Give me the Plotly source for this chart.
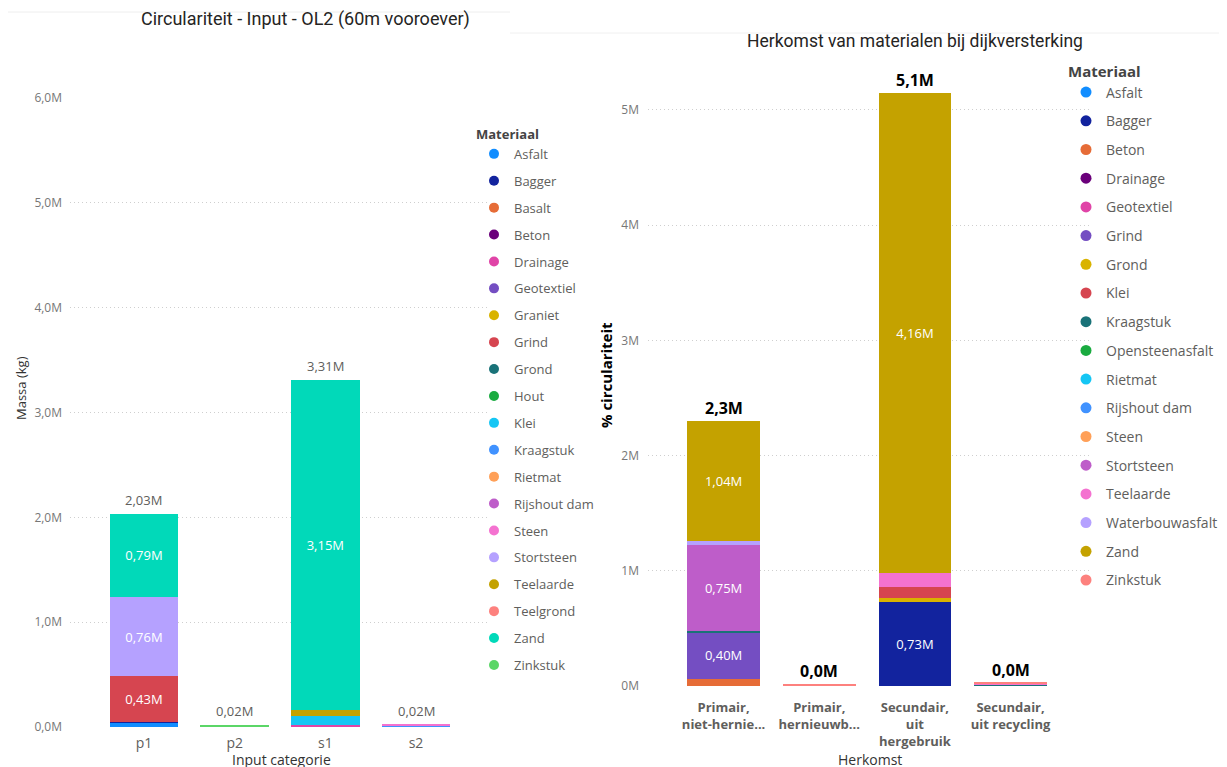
import plotly.graph_objects as go

W, H = 1227, 767
OFF = 8  # page body margin in the browser

# ---------------- Left chart data ----------------
left_title = "Circulariteit - Input - OL2 (60m vooroever)"
left_categories = ["p1", "p2", "s1", "s2"]
left_materials = ["Asfalt", "Bagger", "Basalt", "Beton", "Drainage", "Geotextiel", "Graniet",
                  "Grind", "Grond", "Hout", "Klei", "Kraagstuk", "Rietmat", "Rijshout dam",
                  "Steen", "Stortsteen", "Teelaarde", "Teelgrond", "Zand", "Zinkstuk"]
left_colors = ["#118DFF", "#12239E", "#E66C37", "#6B007B", "#E044A7", "#744EC2", "#D9B300",
               "#D64550", "#197278", "#1AAB40", "#15C6F4", "#4092FF", "#FFA058", "#BE5DC9",
               "#F472D0", "#B5A1FF", "#C4A200", "#FD817E", "#01D9B9", "#5BD667"]
# values in kg per category (p1, p2, s1, s2)
left_asfalt = [40000, 0, 0, 0]
left_bagger = [12000, 0, 0, 0]
left_drainage = [0, 0, 15000, 0]
left_grind = [430000, 0, 0, 0]
left_klei = [0, 0, 90000, 0]
left_kraagstuk = [0, 0, 0, 16000]
left_steen = [0, 0, 0, 5000]
left_stortsteen = [760000, 0, 0, 0]
left_teelaarde = [0, 0, 55000, 0]
left_zand = [790000, 0, 3150000, 0]
left_zinkstuk = [0, 20000, 0, 0]
left_values = {"Asfalt": left_asfalt, "Bagger": left_bagger, "Drainage": left_drainage,
               "Grind": left_grind, "Klei": left_klei, "Kraagstuk": left_kraagstuk,
               "Steen": left_steen, "Stortsteen": left_stortsteen, "Teelaarde": left_teelaarde,
               "Zand": left_zand, "Zinkstuk": left_zinkstuk}
left_yticks = [0, 1e6, 2e6, 3e6, 4e6, 5e6, 6e6]
left_yticklabels = ["0,0M", "1,0M", "2,0M", "3,0M", "4,0M", "5,0M", "6,0M"]

# ---------------- Right chart data ----------------
right_title = "Herkomst van materialen bij dijkversterking"
right_categories = ["Primair, niet-hernieuwbaar", "Primair, hernieuwbaar",
                    "Secundair, uit hergebruik", "Secundair, uit recycling"]
right_ticklabels = ["Primair,<br>niet-hernie...", "Primair,<br>hernieuwb...",
                    "Secundair,<br>uit<br>hergebruik", "Secundair,<br>uit recycling"]
right_materials = ["Asfalt", "Bagger", "Beton", "Drainage", "Geotextiel", "Grind", "Grond",
                   "Klei", "Kraagstuk", "Opensteenasfalt", "Rietmat", "Rijshout dam", "Steen",
                   "Stortsteen", "Teelaarde", "Waterbouwasfalt", "Zand", "Zinkstuk"]
right_colors = ["#118DFF", "#12239E", "#E66C37", "#6B007B", "#E044A7", "#744EC2", "#D9B300",
                "#D64550", "#197278", "#1AAB40", "#15C6F4", "#4092FF", "#FFA058", "#BE5DC9",
                "#F472D0", "#B5A1FF", "#C4A200", "#FD817E"]
right_bagger = [0, 0, 730000, 0]
right_beton = [65000, 0, 0, 0]
right_grind = [400000, 0, 0, 0]
right_grond = [0, 0, 30000, 0]
right_klei = [0, 0, 100000, 0]
right_kraagstuk = [12000, 0, 0, 8000]
right_stortsteen = [750000, 0, 0, 0]
right_teelaarde = [0, 0, 125000, 6000]
right_waterbouwasfalt = [35000, 0, 0, 6000]
right_zand = [1040000, 0, 4160000, 0]
right_zinkstuk = [0, 18000, 0, 8000]
right_values = {"Bagger": right_bagger, "Beton": right_beton, "Grind": right_grind,
                "Grond": right_grond, "Klei": right_klei, "Kraagstuk": right_kraagstuk,
                "Stortsteen": right_stortsteen, "Teelaarde": right_teelaarde,
                "Waterbouwasfalt": right_waterbouwasfalt, "Zand": right_zand,
                "Zinkstuk": right_zinkstuk}
right_yticks = [0, 1e6, 2e6, 3e6, 4e6, 5e6]
right_yticklabels = ["0M", "1M", "2M", "3M", "4M", "5M"]

FONT = "Segoe UI, Open Sans, sans-serif"
TFONT = "Roboto, Segoe UI, sans-serif"


def px_x(p):
    return (p - OFF) / W


def px_y(p):
    return 1 - (p - OFF) / H


def fmt2(v):
    return f"{v / 1e6:.2f}M".replace(".", ",")


def fmt1(v):
    return f"{v / 1e6:.1f}M".replace(".", ",")


fig = go.Figure()

# ---------- left bars ----------
for mat, col in zip(left_materials, left_colors):
    if mat in left_values:
        vals = left_values[mat]
        fig.add_trace(go.Bar(
            x=left_categories, y=vals, name=mat, marker=dict(color=col, line=dict(width=0)),
            width=0.76, text=[fmt2(v) if v >= 300000 else "" for v in vals],
            textposition="inside", insidetextanchor="middle", textangle=0,
            textfont=dict(color="white", size=13, family=FONT),
            showlegend=False, xaxis="x", yaxis="y", hoverinfo="skip"))
    fig.add_trace(go.Scatter(
        x=[None], y=[None], mode="markers", name=mat,
        marker=dict(color=col, size=10, symbol="circle"),
        legend="legend", legendgroup="L" + mat, xaxis="x", yaxis="y"))

left_totals = [sum(v[i] for v in left_values.values()) for i in range(len(left_categories))]

# ---------- right bars ----------
for mat, col in zip(right_materials, right_colors):
    if mat in right_values:
        vals = right_values[mat]
        fig.add_trace(go.Bar(
            x=right_categories, y=vals, name=mat, marker=dict(color=col, line=dict(width=0)),
            width=0.76, text=[fmt2(v) if v >= 300000 else "" for v in vals],
            textposition="inside", insidetextanchor="middle", textangle=0,
            textfont=dict(color="white", size=13, family=FONT),
            showlegend=False, xaxis="x2", yaxis="y2", hoverinfo="skip"))
    fig.add_trace(go.Scatter(
        x=[None], y=[None], mode="markers", name=mat,
        marker=dict(color=col, size=11, symbol="circle"),
        legend="legend2", legendgroup="R" + mat, xaxis="x2", yaxis="y2"))

right_totals = [sum(v[i] for v in right_values.values()) for i in range(len(right_categories))]

total_annotations = []
for cat, tot in zip(left_categories, left_totals):
    total_annotations.append(dict(
        x=cat, y=tot, xref="x", yref="y", text=fmt2(tot), showarrow=False,
        xanchor="center", yanchor="bottom", yshift=3,
        font=dict(color="#605E5C", size=13, family=FONT)))
for cat, tot in zip(right_categories, right_totals):
    total_annotations.append(dict(
        x=cat, y=tot, xref="x2", yref="y2", text="<b>" + fmt1(tot) + "</b>", showarrow=False,
        xanchor="center", yanchor="bottom", yshift=0,
        font=dict(color="#000000", size=16, family=FONT)))

grid = dict(showgrid=True, gridcolor="#CFCFCF", griddash="1px,3px", gridwidth=1, zeroline=False)

fig.update_layout(
    width=W, height=H, margin=dict(l=0, r=0, t=0, b=0, autoexpand=False),
    paper_bgcolor="white", plot_bgcolor="white", barmode="stack",
    font=dict(family=FONT, color="#605E5C"),
    xaxis=dict(type="category", domain=[px_x(70), px_x(490)], range=[-0.816, 3.816],
               showgrid=False, showline=False, ticks="", ticklabelstandoff=6,
               tickfont=dict(size=14, color="#605E5C", family=FONT), anchor="y"),
    yaxis=dict(domain=[px_y(727), px_y(98)], range=[0, 6e6], tickvals=left_yticks,
               ticktext=left_yticklabels, tickfont=dict(size=12, color="#777777", family=FONT),
               ticklabelstandoff=7, anchor="x", **grid),
    xaxis2=dict(type="category", domain=[px_x(648), px_x(1090)], range=[-0.79, 3.83],
                showgrid=False, showline=False, ticks="", ticklabelstandoff=12,
                tickvals=right_categories,
                ticktext=["<b>" + t + "</b>" for t in right_ticklabels],
                tickfont=dict(size=13, color="#605E5C", family=FONT), anchor="y2"),
    yaxis2=dict(domain=[px_y(686), px_y(75.4)], range=[0, 5.3e6], tickvals=right_yticks,
                ticktext=right_yticklabels, tickfont=dict(size=12, color="#777777", family=FONT),
                ticklabelstandoff=8, anchor="x2", **grid),
    legend=dict(x=px_x(474), y=px_y(122), xanchor="left", yanchor="top",
                traceorder="grouped", tracegroupgap=7, itemclick=False,
                font=dict(size=13, color="#605E5C", family=FONT),
                title=dict(text="<b>Materiaal</b>", font=dict(size=13, color="#444444", family=FONT)),
                bgcolor="rgba(0,0,0,0)"),
    legend2=dict(x=px_x(1066), y=px_y(57), xanchor="left", yanchor="top",
                 traceorder="grouped", tracegroupgap=7.5, itemclick=False,
                 font=dict(size=14, color="#605E5C", family=FONT),
                 title=dict(text="<b>Materiaal</b>", font=dict(size=15, color="#444444", family=FONT)),
                 bgcolor="rgba(0,0,0,0)"),
    annotations=[
        dict(text=left_title, x=px_x(305), y=px_y(19), xref="paper", yref="paper",
             xanchor="center", yanchor="middle",
             showarrow=False, font=dict(size=18, color="#252423", family=TFONT)),
        dict(text=right_title, x=px_x(915), y=px_y(41), xref="paper", yref="paper",
             xanchor="center", yanchor="middle",
             showarrow=False, font=dict(size=17.5, color="#252423", family=TFONT)),
        dict(text="Massa (kg)", x=px_x(21), y=px_y(388), xref="paper", yref="paper",
             xanchor="center", yanchor="middle",
             textangle=-90, showarrow=False, font=dict(size=13, color="#333333", family=FONT)),
        dict(text="Input categorie", x=px_x(281), y=px_y(759), xref="paper", yref="paper",
             xanchor="center", yanchor="middle",
             showarrow=False, font=dict(size=14, color="#333333", family=FONT)),
        dict(text="<b>% circulariteit</b>", x=px_x(606), y=px_y(375), xref="paper", yref="paper",
             xanchor="center", yanchor="middle",
             textangle=-90, showarrow=False, font=dict(size=15, color="#000000", family=FONT)),
        dict(text="Herkomst", x=px_x(870), y=px_y(759), xref="paper", yref="paper",
             xanchor="center", yanchor="middle",
             showarrow=False, font=dict(size=14, color="#333333", family=FONT)),
    ] + total_annotations,
    shapes=[
        dict(type="line", xref="paper", yref="paper", x0=px_x(5), x1=px_x(510),
             y0=px_y(12), y1=px_y(12), line=dict(color="#EEEEEE", width=1)),
        dict(type="line", xref="paper", yref="paper", x0=px_x(510), x1=px_x(1227),
             y0=px_y(33), y1=px_y(33), line=dict(color="#F0F0F0", width=1)),
    ],
)

fig.write_html("out.html")
